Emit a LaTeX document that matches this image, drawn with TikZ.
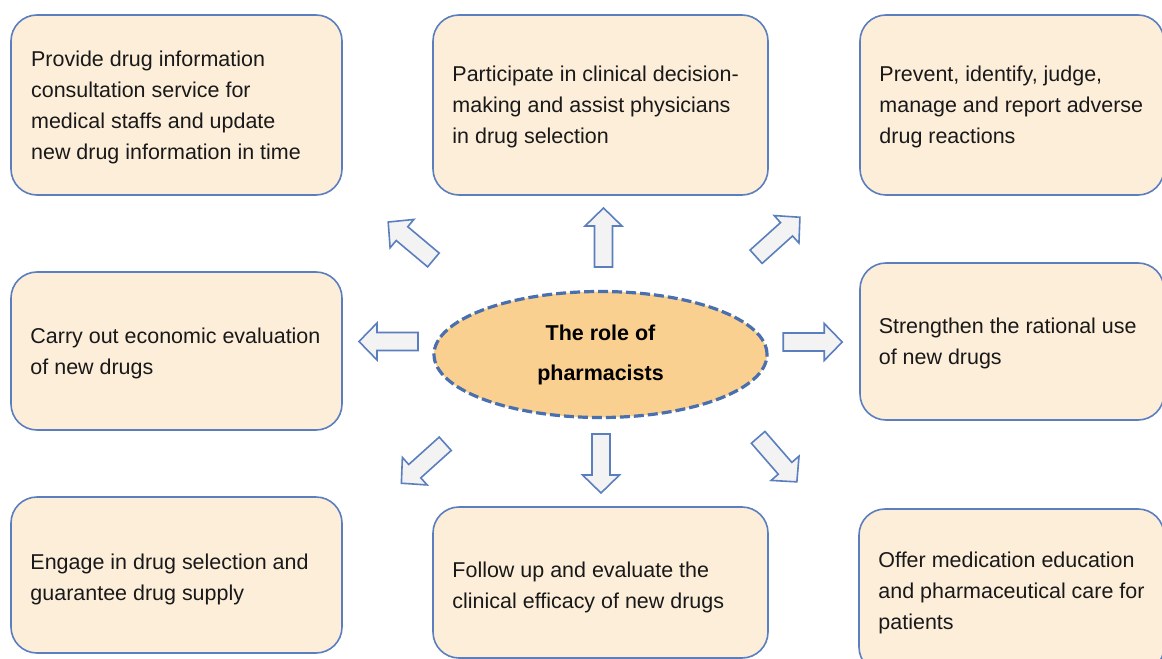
\documentclass[tikz,border=0pt]{standalone}
\usepackage{fontspec}
\setmainfont{Liberation Sans}
\usetikzlibrary{shapes.geometric}
\definecolor{boxfill}{HTML}{FDEEDA}
\definecolor{boxline}{HTML}{5A7EBE}
\definecolor{ellfill}{HTML}{F9D08F}
\definecolor{ellline}{HTML}{4A6FAE}
\definecolor{arrfill}{HTML}{F3F3F3}
\newcommand\blkarrow[3]{\draw[barrow, shift={(#1,#2)}, rotate=#3] (-29.5,-9) -- (11.5,-9) -- (11.5,-18.5) -- (29.5,0) -- (11.5,18.5) -- (11.5,9) -- (-29.5,9) -- cycle;}
\begin{document}
\begin{tikzpicture}[x=0.75pt,y=-0.75pt,
  rbox/.style={draw=boxline, line width=1.2pt, fill=boxfill, rounded corners=19.5pt, inner sep=0pt},
  btext/.style={anchor=west, align=left, inner sep=0pt, font=\fontsize{16.1}{23.25}\selectfont, text=black!90},
  barrow/.style={draw=boxline, line width=1.2pt, fill=arrfill, line join=miter}]
\useasboundingbox (0,0) rectangle (1162,659);
\clip (0,0) rectangle (1162,659);

% boxes
\node[rbox, minimum width=248.25pt, minimum height=135pt] (tl) at (176.5,105) {};
\node[rbox, minimum width=248.25pt, minimum height=118.5pt] (ml) at (176.5,351) {};
\node[rbox, minimum width=248.25pt, minimum height=117pt] (bl) at (176.5,575) {};
\node[rbox, minimum width=251.25pt, minimum height=135pt] (tm) at (600.5,105) {};
\node[rbox, minimum width=251.25pt, minimum height=113.25pt] (bm) at (600.5,582.5) {};
\node[rbox, minimum width=228pt, minimum height=135pt] (tr) at (1012,105) {};
\node[rbox, minimum width=228pt, minimum height=117.75pt] (mr) at (1012,341.5) {};
\node[rbox, minimum width=228.75pt, minimum height=123pt] (br) at (1011.5,591) {};

% texts
\node[btext] (tlt) at ([xshift=15.5pt,yshift=-1.5pt]tl.west) {Provide drug information\\consultation service for\\medical staffs and update\\new drug information in time};
\node[btext] (mlt) at ([xshift=15pt,yshift=-1.5pt]ml.west) {Carry out economic evaluation\\of new drugs};
\node[btext] (blt) at ([xshift=15pt,yshift=-3.5pt]bl.west) {Engage in drug selection and\\guarantee drug supply};
\node[btext] (tmt) at ([xshift=15pt,yshift=-1.5pt]tm.west) {Participate in clinical decision-\\making and assist physicians\\in drug selection};
\node[btext] (bmt) at ([xshift=15pt,yshift=-3.5pt]bm.west) {Follow up and evaluate the\\clinical efficacy of new drugs};
\node[btext] (trt) at ([xshift=15pt,yshift=-1.5pt]tr.west) {Prevent, identify, judge,\\manage and report adverse\\drug reactions};
\node[btext] (mrt) at ([xshift=14.5pt,yshift=-1.5pt]mr.west) {Strengthen the rational use\\of new drugs};
\node[btext] (brt) at ([xshift=15pt,yshift=-1.5pt]br.west) {Offer medication education\\and pharmaceutical care for\\patients};

% central ellipse
\node[draw=ellline, line width=2.4pt, dash pattern=on 7.5pt off 3pt, fill=ellfill, ellipse,
      minimum width=249.75pt, minimum height=94.5pt, inner sep=0pt, align=center,
      font=\fontsize{16.1}{30}\selectfont\bfseries] (role) at (600.5,354.5) {The role of\\pharmacists};

% block arrows
\blkarrow{603.5}{237.5}{90}
\blkarrow{601}{463.5}{-90}
\blkarrow{388.5}{341.5}{180}
\blkarrow{812.7}{342}{0}
\blkarrow{410.8}{241}{140}
\blkarrow{778}{237}{42}
\blkarrow{423.3}{463.5}{222}
\blkarrow{777.5}{459.6}{-49}
\end{tikzpicture}
\end{document}
